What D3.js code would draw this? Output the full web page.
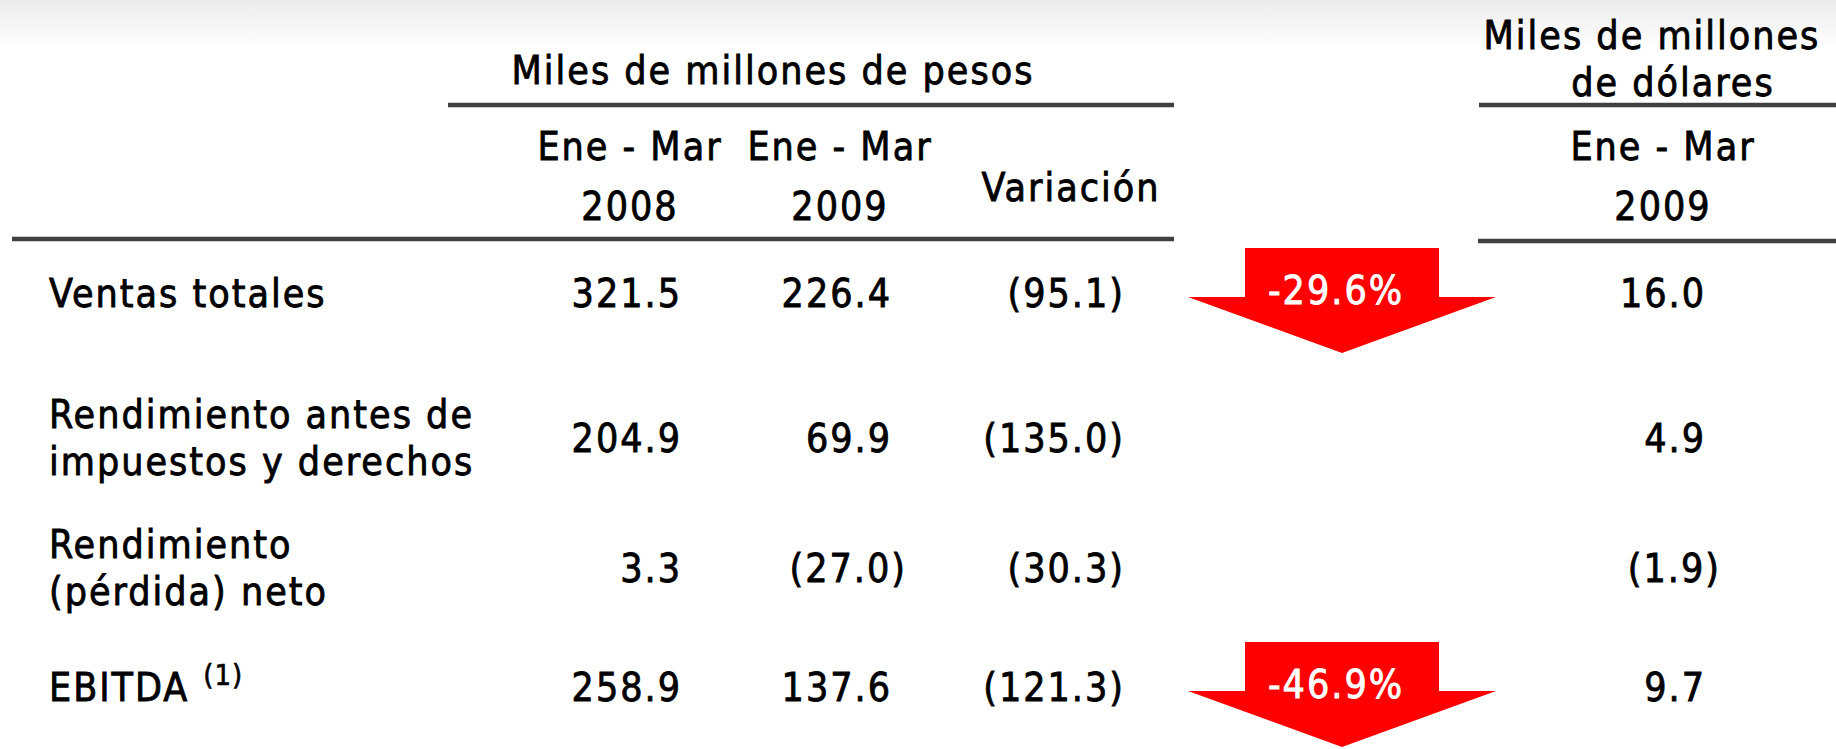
<!DOCTYPE html>
<html>
<head>
<meta charset="utf-8">
<script src="https://cdn.jsdelivr.net/npm/d3@7"></script>
<style>
  html, body { margin: 0; padding: 0; background: #fff; overflow: hidden; }
  svg text { font-family: "DejaVu Sans Condensed", "DejaVu Sans", sans-serif; letter-spacing: 2px; fill: #000; stroke: #000; stroke-width: 0.8px; }
  svg text.white { fill: #fff; stroke: #fff; }
</style>
</head>
<body>
<div id="chart"></div>
<script>
// Table data
const rowLabels = [
    ['Ventas totales'],
    ['Rendimiento antes de', 'impuestos y derechos'],
    ['Rendimiento', '(pérdida) neto'],
    ['EBITDA']
];
const pesos2008 = [321.5, 204.9, 3.3, 258.9];
const pesos2009 = [226.4, 69.9, -27.0, 137.6];
const variacion = [-95.1, -135.0, -30.3, -121.3];
const dolares2009 = [16.0, 4.9, -1.9, 9.7];
const pctChange = [-29.6, null, null, -46.9];

const headerPesos = 'Miles de millones de pesos';
const headerDolares = ['Miles de millones', 'de dólares'];
const periodHeaders = [['Ene - Mar', '2008'], ['Ene - Mar', '2009']];
const variacionHeader = 'Variación';

// Layout
const W = 1836, H = 749;
const fontSize = 39;
const parenPad = 15;

const svg = d3.select('#chart')
    .append('svg')
    .attr('width', W)
    .attr('height', H);

// faint grey band at the top
const grad = svg.append('defs').append('linearGradient')
    .attr('id', 'topfade')
    .attr('x1', 0).attr('x2', 0).attr('y1', 0).attr('y2', 1);
grad.append('stop').attr('offset', '0%').attr('stop-color', '#ebebeb');
grad.append('stop').attr('offset', '100%').attr('stop-color', '#ffffff');
svg.append('rect')
    .attr('x', 0).attr('y', 0)
    .attr('width', W).attr('height', 48)
    .attr('fill', 'url(#topfade)');

// row positions and column (right edge of parenthesis) positions
const yRow = d3.scaleOrdinal()
    .domain(d3.range(rowLabels.length))
    .range([293, 438, 568, 687]);

const columns = ['p2008', 'p2009', 'var', 'usd'];
const xCol = d3.scaleOrdinal()
    .domain(columns)
    .range([697, 907, 1125, 1721]);

const locale = d3.formatLocale({ decimal: '.', thousands: ',', grouping: [3], currency: ['$', ''], minus: '-' });
const fmt = locale.format('.1f');
const fmtAcc = v => v < 0 ? '(' + fmt(-v) + ')' : fmt(v);
const fmtPct = v => fmt(v) + '%';

const textSize = s => s.style('font-size', fontSize + 'px');

// header: pesos block
svg.append('text')
    .attr('x', 773).attr('y', 70).attr('dy', '0.35em')
    .attr('text-anchor', 'middle')
    .call(textSize)
    .text(headerPesos);

const rules = [
    { x1: 448, x2: 1174, y: 105 },
    { x1: 1479, x2: W, y: 105 },
    { x1: 12, x2: 1174, y: 239 },
    { x1: 1478, x2: W, y: 241 }
];
svg.selectAll('.rule')
    .data(rules)
    .enter()
    .append('line')
    .attr('class', 'rule')
    .attr('x1', d => d.x1).attr('x2', d => d.x2)
    .attr('y1', d => d.y).attr('y2', d => d.y)
    .attr('stroke', '#404040')
    .attr('stroke-width', 4.5);

// period headers
const periodCenters = [630, 840];
periodHeaders.forEach((lines, i) => {
    lines.forEach((t, j) => {
        svg.append('text')
            .attr('x', periodCenters[i])
            .attr('y', j === 0 ? 146 : 206)
            .attr('dy', '0.35em')
            .attr('text-anchor', 'middle')
            .call(textSize)
            .text(t);
    });
});

svg.append('text')
    .attr('x', 1071).attr('y', 187).attr('dy', '0.35em')
    .attr('text-anchor', 'middle')
    .call(textSize)
    .text(variacionHeader);

// header: dollars block
headerDolares.forEach((t, j) => {
    svg.append('text')
        .attr('x', j === 0 ? 1652 : 1673)
        .attr('y', j === 0 ? 35 : 82)
        .attr('dy', '0.35em')
        .attr('text-anchor', 'middle')
        .call(textSize)
        .text(t);
});
['Ene - Mar', '2009'].forEach((t, j) => {
    svg.append('text')
        .attr('x', 1663)
        .attr('y', j === 0 ? 146 : 206)
        .attr('dy', '0.35em')
        .attr('text-anchor', 'middle')
        .call(textSize)
        .text(t);
});

// row labels
const lineGap = 47;
rowLabels.forEach((lines, i) => {
    const y0 = yRow(i) - (lines.length - 1) * lineGap / 2;
    const t = svg.append('text')
        .attr('x', 49)
        .attr('y', y0)
        .attr('dy', '0.35em')
        .call(textSize);
    lines.forEach((l, j) => {
        t.append('tspan')
            .attr('x', 49)
            .attr('y', y0 + j * lineGap)
            .attr('dy', '0.35em')
            .text(l);
    });
    if (lines[0] === 'EBITDA') {
        const w = t.node().getComputedTextLength();
        svg.append('text')
            .attr('x', 49 + w + 14)
            .attr('y', yRow(i) - 12)
            .attr('dy', '0.35em')
            .style('font-size', '29px')
            .style('letter-spacing', '1px')
            .style('stroke-width', '0.6px')
            .text('(1)');
    }
});

// value cells
const cells = [];
[pesos2008, pesos2009, variacion, dolares2009].forEach((arr, c) => {
    arr.forEach((v, r) => cells.push({ col: columns[c], row: r, value: v }));
});

svg.selectAll('.cell')
    .data(cells)
    .enter()
    .append('text')
    .attr('class', 'cell')
    .attr('x', d => xCol(d.col) - (d.value < 0 ? 0 : parenPad))
    .attr('y', d => yRow(d.row))
    .attr('dy', '0.35em')
    .attr('text-anchor', 'end')
    .call(textSize)
    .text(d => fmtAcc(d.value));

// red down arrows with percentage change
const arrowX = 1342;
const arrowData = pctChange
    .map((v, i) => ({ row: i, value: v }))
    .filter(d => d.value !== null);

const arrowPath = cy => {
    const p = d3.path();
    p.moveTo(arrowX - 97, cy - 45);
    p.lineTo(arrowX + 97, cy - 45);
    p.lineTo(arrowX + 97, cy + 4);
    p.lineTo(arrowX + 154, cy + 4);
    p.lineTo(arrowX, cy + 60);
    p.lineTo(arrowX - 154, cy + 4);
    p.lineTo(arrowX - 97, cy + 4);
    p.closePath();
    return p.toString();
};

const arrows = svg.selectAll('.arrow')
    .data(arrowData)
    .enter()
    .append('g')
    .attr('class', 'arrow');

arrows.append('path')
    .attr('d', d => arrowPath(yRow(d.row)))
    .attr('fill', '#ff0000');

arrows.append('text')
    .attr('class', 'white')
    .attr('x', arrowX - 6)
    .attr('y', d => yRow(d.row) - 3)
    .attr('dy', '0.35em')
    .attr('text-anchor', 'middle')
    .call(textSize)
    .text(d => fmtPct(d.value));
</script>
</body>
</html>
